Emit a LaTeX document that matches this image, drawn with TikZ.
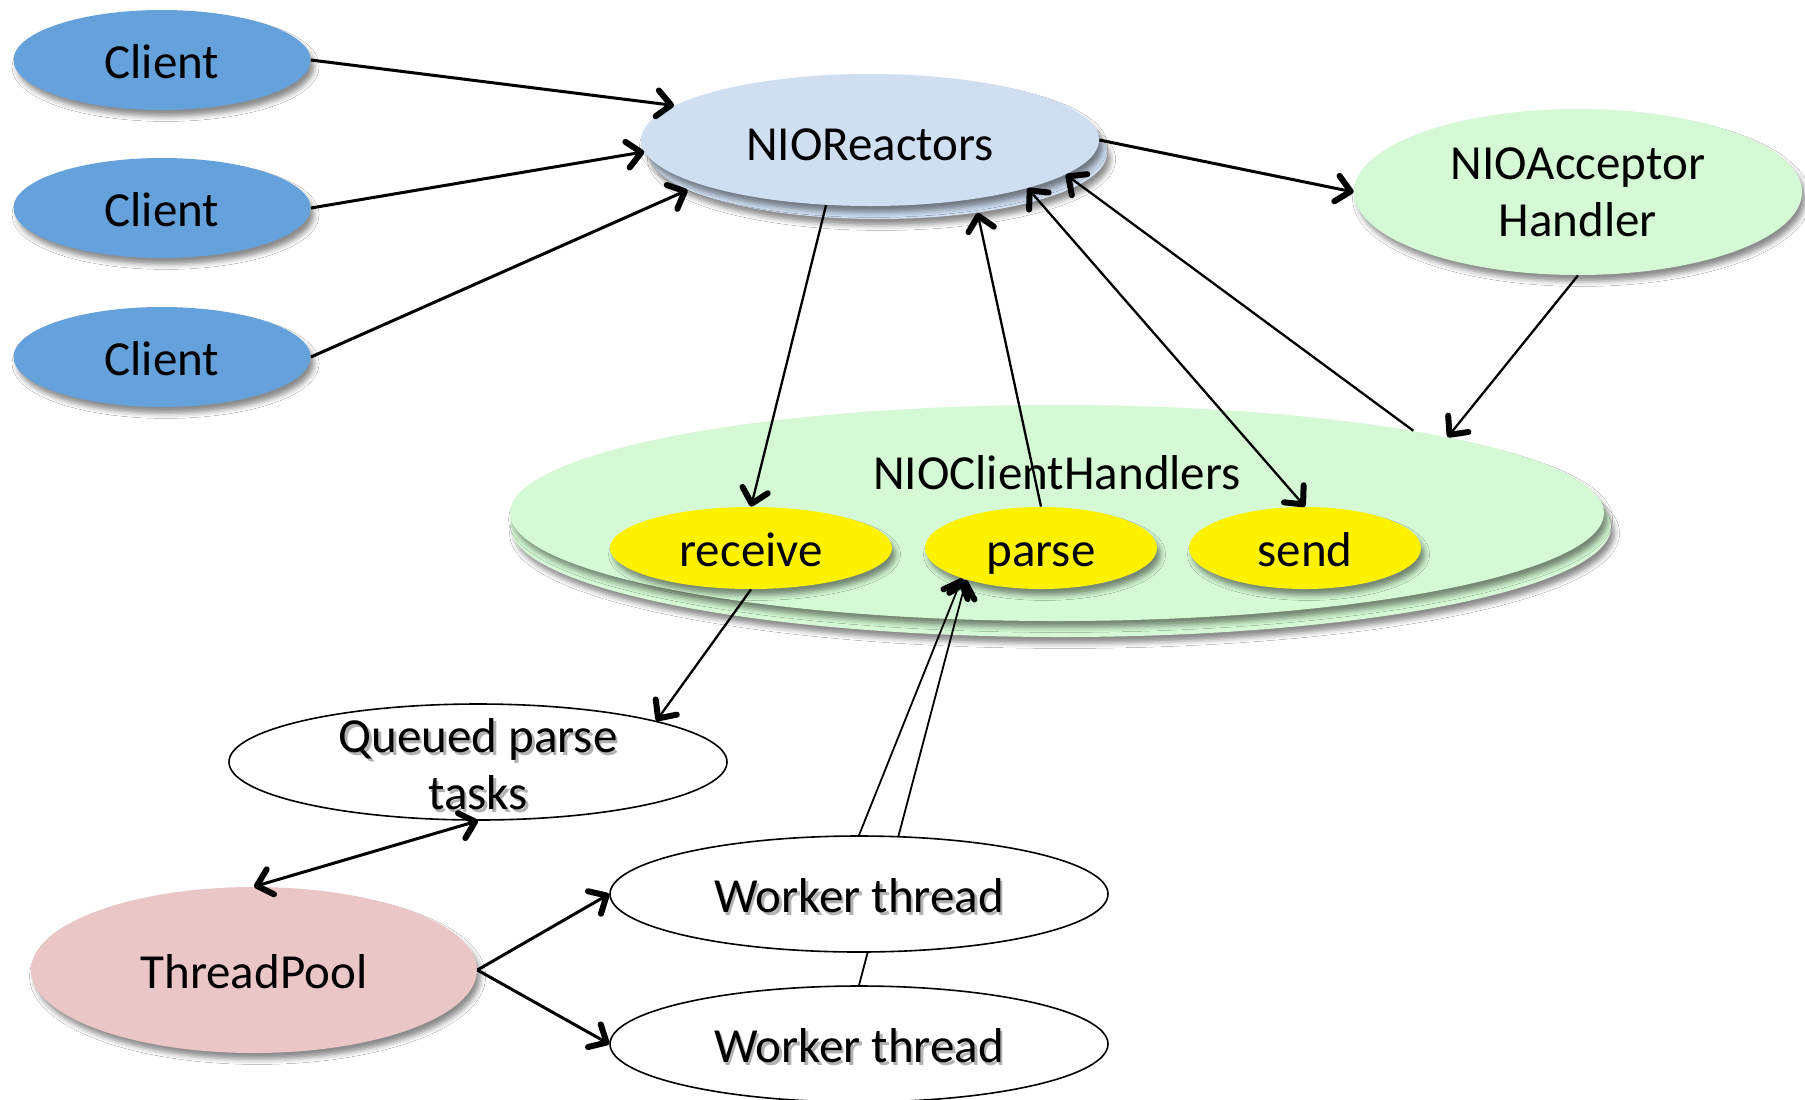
\documentclass[tikz,border=0pt]{standalone}
\usepackage{fontspec}
\setmainfont{Carlito}
\usetikzlibrary{shapes.geometric,arrows.meta,shadows.blur}
\definecolor{cblue}{RGB}{101,161,219}
\definecolor{nrblue}{RGB}{207,222,240}
\definecolor{mint}{RGB}{212,249,212}
\definecolor{tpink}{RGB}{235,198,198}
\newcommand\shd[1]{\leavevmode\rlap{\kern1.3pt\raisebox{-1.6pt}{\textcolor{black!30}{#1}}}#1}
\begin{document}
\begin{tikzpicture}[x=0.5pt,y=-0.5pt,
  every node/.style={font=\fontsize{24.5}{28.5}\selectfont},
  oval/.style={ellipse, inner sep=0pt, text height=18pt, text depth=0pt,
    blur shadow={shadow xshift=1.8pt, shadow yshift=-3.2pt, shadow blur radius=2.5pt, shadow opacity=45}},
  wnode/.style={ellipse, inner sep=0pt, draw=black, line width=0.8pt, fill=white,
    minimum width=249pt, minimum height=58pt, text height=18pt, text depth=0pt},
  tipb/.tip={Straight Barb[length=7pt,width=13pt,line width=3pt 0 1,round]},
  bigarr/.style={-tipb, line width=1.5pt},
  arr/.style={-tipb, line width=1.15pt},
  dblarr/.style={tipb-tipb},
  thinarr/.style={-tipb, line width=0.9pt}]
\fill[white] (0,0) rectangle (1805,1099);
\useasboundingbox (0,0) rectangle (1805,1099);

% clients
\node[oval, fill=cblue, minimum width=148.5pt, minimum height=50pt] (c1) at (162,60) {Client};
\node[oval, fill=cblue, minimum width=148.5pt, minimum height=50pt] (c2) at (162,208) {Client};
\node[oval, fill=cblue, minimum width=148.5pt, minimum height=50pt] (c3) at (162,357) {Client};

% reactors
\node[oval, fill=nrblue, minimum width=229pt, minimum height=66pt] (nrb) at (878,153) {};
\node[oval, fill=nrblue, minimum width=229pt, minimum height=66pt, text height=20pt] (nr) at (870,140) {NIOReactors};

% acceptor
\node[oval, fill=mint, minimum width=224pt, minimum height=83pt, align=center,
  text height=, text depth=] (na) at (1578,192) {NIOAcceptor\\Handler};

% client handlers
\node[oval, fill=mint, minimum width=550pt, minimum height=110pt] (nchb) at (1061,527) {};
\node[oval, fill=mint, minimum width=547pt, minimum height=108pt] (nch) at (1057,513) {};
\node (nchl) at (1057,473) {NIOClientHandlers};
\node[oval, fill=yellow, minimum width=141pt, minimum height=41pt] (rc) at (751,548) {receive};
\node[oval, fill=yellow, minimum width=116pt, minimum height=41pt] (pa) at (1041,548) {parse};
\node[oval, fill=yellow, minimum width=116pt, minimum height=41pt] (sd) at (1305,548) {send};

% queue and pool
\node[wnode] (q) at (478,762) {};
\node[align=center] (qt) at (478,766) {\shd{Queued parse}\\\shd{tasks}};
\node[oval, fill=tpink, minimum width=223pt, minimum height=83pt] (tp) at (254,970) {ThreadPool};

% workers
\node[wnode] (w2) at (859,1044) {\shd{Worker thread}};
\draw[thinarr] (w2.north) -- (pa.203);
\node[wnode] (w1) at (859,894) {\shd{Worker thread}};

% connectors
\draw[bigarr] (c1.east) -- (nr.170);
\draw[bigarr] (c2.east) -- (nr.183);
\draw[bigarr] (c3.east) -- (nrb.191);
\draw[bigarr] (nr.east) -- (na.west);
\draw[arr] (na.south) -- (nch.11);
\draw[arr] (nr.236) -- (rc.north);
\draw[arr] (pa.north) -- (nrb.329);
\draw[dblarr, line width=1.15pt] (nr.343) -- (sd.north);
\draw[arr] (nch.13) -- (nr.350);
\draw[arr] (rc.south) -- (q.13);
\draw[dblarr, line width=1.5pt] (q.south) -- (tp.north);
\draw[bigarr] (tp.east) -- (w1.west);
\draw[bigarr] (tp.east) -- (w2.west);
\draw[thinarr] (w1.north) -- (pa.201);
\end{tikzpicture}
\end{document}
